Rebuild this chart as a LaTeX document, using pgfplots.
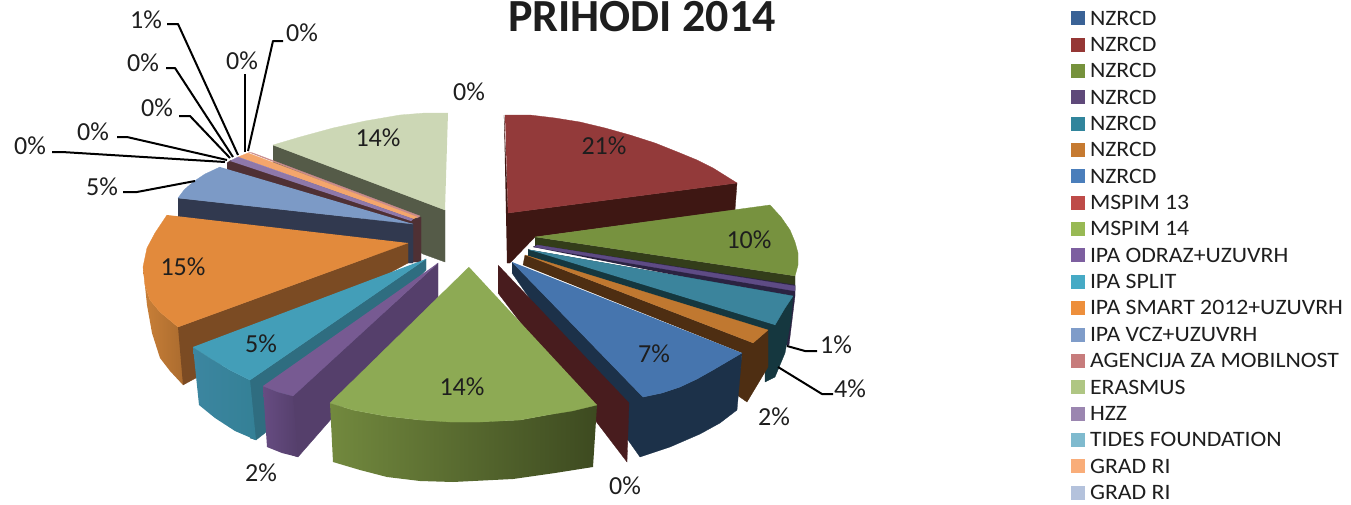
\documentclass[border=0pt]{standalone}
\usepackage{pgfplots}
\pgfplotsset{compat=1.18}
\usepackage{fontspec}
\setmainfont{Carlito}
\newfontfamily\legf[FakeStretch=1.08]{Carlito}
\newcommand{\hx}[1]{\definecolor{c#1}{HTML}{#1}}
\hx{1E1E1E}\hx{555B48}\hx{CCD7B5}\hx{4F3034}\hx{C88B8B}\hx{F4A66C}\hx{8E78AA}\hx{31394F}\hx{7C9AC6}
\hx{C98038}\hx{A96A2E}\hx{7B4B23}\hx{E28A3C}\hx{2F6D80}\hx{3C86A0}\hx{348096}\hx{439EB8}\hx{553F6B}
\hx{664C82}\hx{775A92}\hx{3E1713}\hx{933A3A}\hx{333D1A}\hx{77923F}\hx{2B2342}\hx{5E4B85}\hx{15373F}
\hx{3B849C}\hx{4E2E12}\hx{C07830}\hx{1C3149}\hx{4675AE}\hx{481C1E}\hx{72893E}\hx{3D4A20}\hx{8DAA54}
\hx{3A6296}\hx{953735}\hx{76923C}\hx{5F497A}\hx{31859C}\hx{C67A30}\hx{4A7EBB}\hx{BE4B48}\hx{98B954}
\hx{7D5FA0}\hx{46AAC5}\hx{ED8F3C}\hx{7F9CC9}\hx{C77C7C}\hx{AFC683}\hx{9B86B0}\hx{7FBACE}\hx{F9AD79}\hx{B4C2DC}
\pgfplotsset{
  f/.style={fill=c#1,draw=c#1,line width=0.15pt,forget plot,mark=none},
  g/.style 2 args={left color=c#1,right color=c#2,draw=none,forget plot,mark=none},
  lead/.style={black,line width=1pt,forget plot,mark=none,line join=round},
}
\newcommand{\lab}[3]{\node[text=c1E1E1E,font=\fontsize{13pt}{14pt}\selectfont,inner sep=0pt] at (axis cs:#1,#2) {#3};}
\begin{document}
\begin{tikzpicture}
\begin{axis}[
  scale only axis,width=675.5pt,height=252pt,
  xmin=0,xmax=1351,ymin=0,ymax=504,y dir=reverse,
  axis lines=none,clip=false,
  legend image code/.code={\path[#1,draw=none] (0pt,-0.1pt) rectangle (7pt,6.9pt);},
  legend cell align=left,
  legend style={at={(axis cs:1071,11)},anchor=north west,draw=none,fill=none,inner sep=0pt,outer sep=0pt,
    font=\legf\fontsize{11pt}{11pt}\selectfont,text=c1E1E1E,
    nodes={text height=7pt,text depth=0pt,inner sep=0pt,outer sep=0pt,anchor=base west},
    row sep=6.08pt,column sep=2.5pt},
]
\addplot[draw=none,forget plot,mark=none] coordinates {(0,0)(1351,504)};

% ---- back: light green slice 14%
\addplot[f=555B48] coordinates {(273,145)(445,210)(445,262)(423,254)(273,165)};
\addplot[f=CCD7B5] coordinates {(448,113)(425,113)(400,115)(365,121)(333,128)(300,137)(273,145)(445,210)};

% ---- thin slices
\addplot[f=4F3034] coordinates {(227,163)(231,160)(415,219)(421,217)(421,262)(411,262)(411,230)(227,170)};
\addplot[f=C88B8B] coordinates {(248,152)(253,153)(420,216)(417,218)};
\addplot[f=F4A66C] coordinates {(238,157)(248,153)(417,217)(413,219)};
\addplot[f=8E78AA] coordinates {(230,161)(238,157)(413,219)(411,221)};

% ---- blue 5%
\addplot[f=31394F] coordinates {(178,198)(413,224)(413,263)(408,263)(178,217)};
\addplot[f=7C9AC6] coordinates {(220,167)(205,174)(193,182)(184,190)(178,198)(413,224)};

% ---- orange 15%
\addplot[g={C98038}{A96A2E}] coordinates {(143,267)(145,285)(150,300)(160,312)(178,327)(186,327)(186,383)(183,385)(170,371)(160,358)(152,333)(147,305)};
\addplot[f=7B4B23] coordinates {(178,327)(408,243)(408,263)(183,385)};
\addplot[f=E28A3C] coordinates {(167,215)(155,233)(147,248)(143,267)(145,285)(150,300)(160,312)(178,327)(408,243)};

% ---- teal 5%
\addplot[f=2F6D80] coordinates {(248,380)(250,380)(426,259)(426,270)(265,433)(256,440)(250,438)};
\addplot[g={3C86A0}{348096}] coordinates {(193,347)(210,358)(230,370)(250,380)(256,440)(235,431)(215,418)(199,405)};
\addplot[f=439EB8] coordinates {(193,347)(210,358)(230,370)(250,380)(426,259)};

% ---- purple 2%
\addplot[f=553F6B] coordinates {(288,394)(293,396)(438,263)(438,297)(298,457)(292,455)};
\addplot[g={664C82}{553F6B}] coordinates {(263,386)(278,392)(293,396)(298,457)(282,453)(267,447)};
\addplot[f=775A92] coordinates {(263,386)(278,392)(293,396)(438,263)};

% ---- red 21%
\addplot[f=3E1713] coordinates {(504,115)(508,213)(737,183)(735,210)(535,237)(510,263)(507,263)};
\addplot[f=933A3A] coordinates {(505,115)(530,115)(555,118)(580,122)(605,128)(630,135)(655,143)(680,153)(697,160)(713,168)(737,183)(508,213)};

% ---- green 10%
\addplot[f=333D1A] coordinates {(535,237)(795,276)(795,290)(535,246)};
\addplot[f=77923F] coordinates {(535,237)(770,205)(781,217)(790,230)(795,242)(798,253)(798,265)(795,276)};

% ---- purple 1%
\addplot[f=2B2342] coordinates {(533,247)(537,245)(795,285)(795,296)(789,345)(785,345)(790,298)};
\addplot[f=5E4B85] coordinates {(537,245)(795,286)(795,291)(534,247)};

% ---- teal 4%
\addplot[f=15373F] coordinates {(528,249)(530,250)(793,296)(791,320)(785,353)(775,377)(765,382)(765,330)(528,258)};
\addplot[f=3B849C] coordinates {(530,250)(793,296)(785,308)(775,325)};

% ---- brown 2%
\addplot[f=4E2E12] coordinates {(523,265)(525,255)(753,343)(768,330)(768,367)(747,402)(737,395)(742,353)};
\addplot[f=C07830] coordinates {(525,255)(768,330)(753,343)};

% ---- blue 7%
\addplot[f=1C3149] coordinates {(512,262)(643,397)(662,393)(680,387)(697,379)(713,370)(742,353)(737,410)(720,423)(700,434)(670,447)(640,457)(628,440)(512,273)};
\addplot[f=4675AE] coordinates {(512,262)(643,397)(662,393)(680,387)(697,379)(713,370)(742,353)};

% ---- dark red wall 0%
\addplot[f=481C1E] coordinates {(498,265)(629,403)(627,462)(498,293)};

% ---- big green 14%
\addplot[g={72893E}{3D4A20}] coordinates {(330,403)(353,410)(385,416)(420,420)(470,422)(520,420)(547,415)(597,405)(593,467)(555,473)(513,479)(453,482)(420,481)(387,477)(360,470)(333,462)};
\addplot[f=8DAA54] coordinates {(469,267)(330,403)(353,410)(385,416)(420,420)(450,422)(480,422)(520,420)(547,415)(572,411)(597,405)};

% ---- leader lines
\addplot[lead] coordinates {(167,24)(178,24)(238,155)};
\addplot[lead] coordinates {(166,68)(175,68)(233,157)};
\addplot[lead] coordinates {(179,116)(190,116)(230,158)};
\addplot[lead] coordinates {(117,137)(127,137)(227,160)};
\addplot[lead] coordinates {(52,152)(62,152)(225,162)};
\addplot[lead] coordinates {(123,192)(137,192)(195,181)};
\addplot[lead] coordinates {(245,74)(245,152)};
\addplot[lead] coordinates {(283,41)(273,41)(248,151)};
\addplot[lead] coordinates {(817,351)(805,351)(787,346)};
\addplot[lead] coordinates {(833,394)(822,394)(778,367)};

% ---- labels
\lab{146}{20}{1\%}
\lab{143}{63}{0\%}
\lab{157}{108}{0\%}
\lab{93}{132}{0\%}
\lab{30}{146}{0\%}
\lab{102}{187}{5\%}
\lab{242}{61}{0\%}
\lab{302}{33}{0\%}
\lab{469}{92}{0\%}
\lab{378}{138}{14\%}
\lab{604}{146}{21\%}
\lab{749}{240}{10\%}
\lab{836}{345}{1\%}
\lab{850}{389}{4\%}
\lab{774}{417}{2\%}
\lab{654}{354}{7\%}
\lab{462}{387}{14\%}
\lab{625}{486}{0\%}
\lab{261}{473}{2\%}
\lab{261}{344}{5\%}
\lab{183}{267}{15\%}
\node[text=c1E1E1E,font=\fontsize{23pt}{24pt}\selectfont\bfseries,inner sep=0pt] at (axis cs:642,17) {PRIHODI 2014};

% ---- legend
\addlegendimage{fill=c3A6296}\addlegendentry{NZRCD}
\addlegendimage{fill=c953735}\addlegendentry{NZRCD}
\addlegendimage{fill=c76923C}\addlegendentry{NZRCD}
\addlegendimage{fill=c5F497A}\addlegendentry{NZRCD}
\addlegendimage{fill=c31859C}\addlegendentry{NZRCD}
\addlegendimage{fill=cC67A30}\addlegendentry{NZRCD}
\addlegendimage{fill=c4A7EBB}\addlegendentry{NZRCD}
\addlegendimage{fill=cBE4B48}\addlegendentry{MSPIM 13}
\addlegendimage{fill=c98B954}\addlegendentry{MSPIM 14}
\addlegendimage{fill=c7D5FA0}\addlegendentry{IPA ODRAZ+UZUVRH}
\addlegendimage{fill=c46AAC5}\addlegendentry{IPA SPLIT}
\addlegendimage{fill=cED8F3C}\addlegendentry{IPA SMART 2012+UZUVRH}
\addlegendimage{fill=c7F9CC9}\addlegendentry{IPA VCZ+UZUVRH}
\addlegendimage{fill=cC77C7C}\addlegendentry{AGENCIJA ZA MOBILNOST}
\addlegendimage{fill=cAFC683}\addlegendentry{ERASMUS}
\addlegendimage{fill=c9B86B0}\addlegendentry{HZZ}
\addlegendimage{fill=c7FBACE}\addlegendentry{TIDES FOUNDATION}
\addlegendimage{fill=cF9AD79}\addlegendentry{GRAD RI}
\addlegendimage{fill=cB4C2DC}\addlegendentry{GRAD RI}
\end{axis}
\end{tikzpicture}
\end{document}
